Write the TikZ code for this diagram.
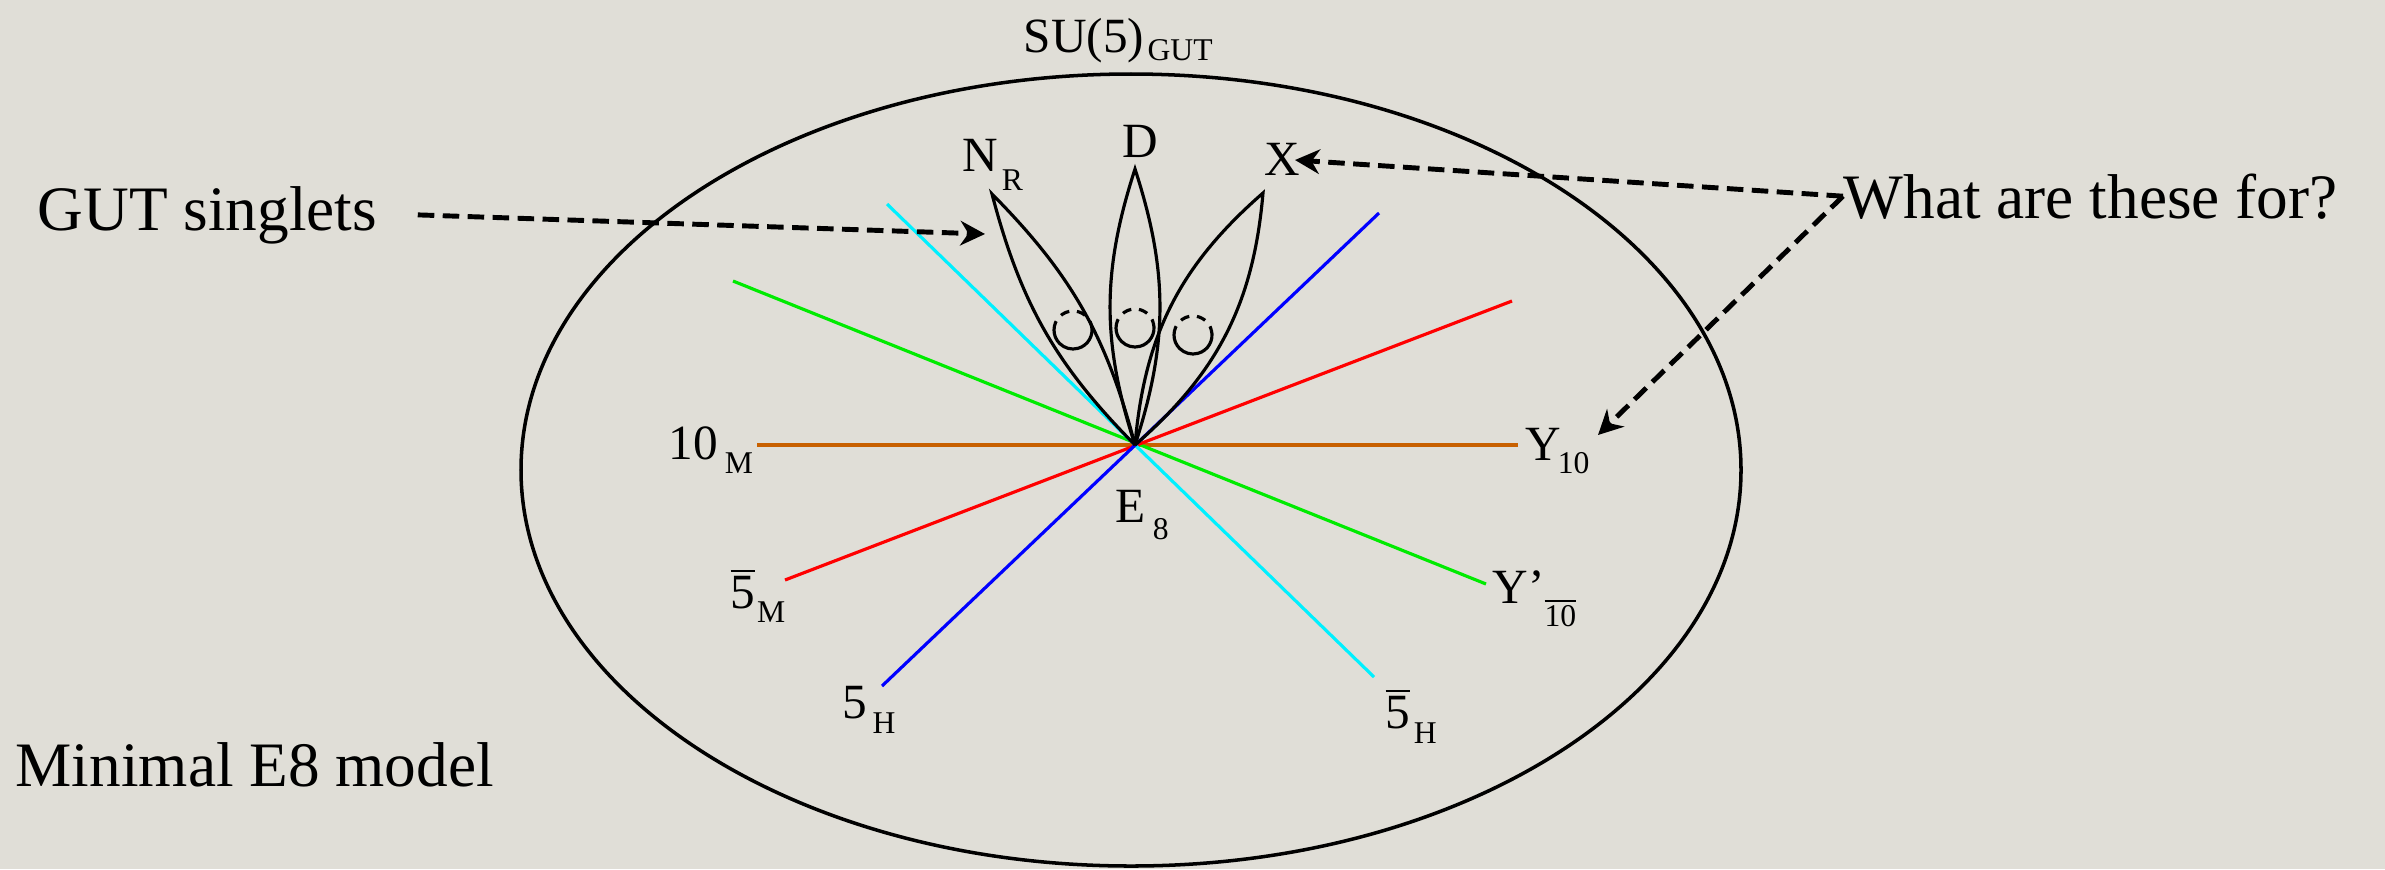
\documentclass[tikz,border=0pt]{standalone}
\usepackage{fontspec}
\setmainfont{Liberation Serif}
\usetikzlibrary{arrows.meta, positioning, calc}

\definecolor{paper}{RGB}{224,222,215}
\definecolor{tenline}{RGB}{200,96,0}
\definecolor{vgreen}{RGB}{0,235,0}
\definecolor{vcyan}{RGB}{0,240,255}
\definecolor{vred}{RGB}{255,0,0}
\definecolor{vblue}{RGB}{0,0,255}

% lowered subscript: [kern]{drop}{text}
\newcommand{\lsub}[3][0pt]{\kern#1\raisebox{-#2}{\fontsize{9pt}{10pt}\selectfont #3}}
\newcommand{\bfive}{$\overline{\mbox{5}}$}

\begin{document}
\begin{tikzpicture}[x=0.01cm, y=-0.01cm,
  lbl/.style={inner sep=0pt, anchor=base west, font=\fontsize{14pt}{16pt}\selectfont},
  big/.style={inner sep=0pt, anchor=base west, font=\fontsize{18pt}{22pt}\selectfont},
  ray/.style={line width=0.9pt},
  petal/.style={line width=0.9pt, black},
  qarrow/.style={line width=1.4pt, dash pattern=on 4.7pt off 2.4pt,
    -{Stealth[length=7pt, width=7pt]}}]
\useasboundingbox (0,0) rectangle (2385,869);
\fill[paper] (0,0) rectangle (2385,869);

\draw[line width=1pt] (1131,470) ellipse [x radius=610, y radius=396];

\coordinate (e8) at (1135,445);
\coordinate (tenA) at (757,445);   \coordinate (tenB) at (1518,445);
\coordinate (redA) at (785,580);   \coordinate (redB) at (1512,301);
\coordinate (bluA) at (882,686);   \coordinate (bluB) at (1379,213);
\coordinate (cyaA) at (887,204);   \coordinate (cyaB) at (1374,677);
\coordinate (greA) at (733,281);   \coordinate (greB) at (1486,584);

\draw[ray, tenline] (tenA) -- (tenB);
\draw[ray, vgreen] (greA) -- (greB);
\draw[ray, vred] (redA) -- (redB);
\draw[ray, vcyan] (cyaA) -- (cyaB);
\draw[ray, vblue] (bluA) -- (bluB);

% petals
\coordinate (nrtip) at (992,194);
\coordinate (dtip) at (1135,169);
\coordinate (xtip) at (1263,193);
\draw[petal] (e8) to[bend left=15] (nrtip) to[bend left=15] (e8);
\draw[petal] (e8) to[bend left=18] (dtip) to[bend left=18] (e8);
\draw[petal] (e8) to[bend left=22] (xtip) to[bend left=22] (e8);

\foreach \cx/\cy in {1073/330, 1135/328, 1193/335} {
  \draw[petal] (\cx,\cy) ++(-15:19) arc[start angle=-15, end angle=180, radius=19];
  \draw[petal, dash pattern=on 2.6pt off 2.2pt] (\cx,\cy) ++(180:19)
    arc[start angle=180, end angle=345, radius=19];
}

\node[lbl] (su5) at (1023,52) {SU(5)\lsub[1pt]{2.3pt}{GUT}};
\node[lbl] (nr) at (962,171) {N\lsub[1pt]{5.4pt}{R}};
\node[lbl] (dl) at (1122,157) {D};
\node[lbl] (xl) at (1264,175) {X};
\node[lbl] (tenm) at (668,459) {10\lsub[2pt]{4pt}{M}};
\node[lbl] (fivem) at (730,608) {\bfive\lsub[0.5pt]{4pt}{M}};
\node[lbl] (fiveh) at (842,718) {5\lsub[1.5pt]{4.3pt}{H}};
\node[lbl] (eeight) at (1115,522) {E\lsub[2pt]{5pt}{8}};
\node[lbl] (yten) at (1525,460) {Y\lsub[-1pt]{3.7pt}{10}};
\node[lbl] (yprime) at (1492,603) {Y’\lsub{6.8pt}{$\overline{\mbox{10}}$}};
\node[lbl] (fivehb) at (1385,728) {\bfive\lsub[1pt]{4.3pt}{H}};

\node[big] (gutsing) at (37,230) {GUT singlets};
\node[big] (what) at (1843,218) {What are these for?};
\node[big] (minimal) at (15,786) {Minimal E8 model};

\coordinate (nrarr) at (985,234);
\coordinate (xarr) at (1295,160);
\coordinate (yarr) at (1598,435);
\draw[qarrow] ([xshift=0.4cm]gutsing.east) -- (nrarr);
\draw[qarrow] (what.west) -- (xarr);
\draw[qarrow] (what.west) -- (yarr);
\end{tikzpicture}
\end{document}
